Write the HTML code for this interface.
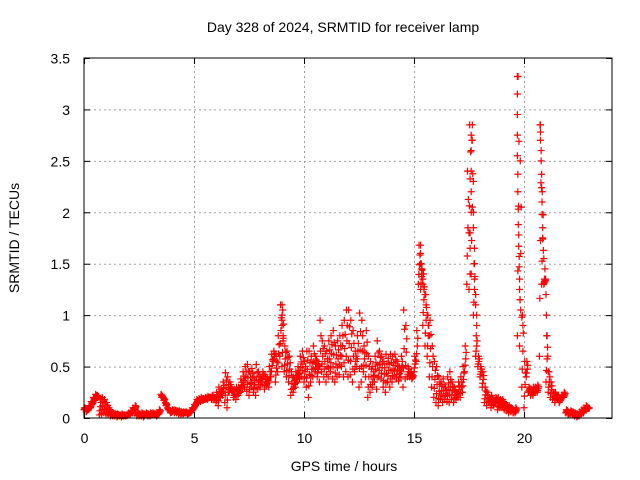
<!DOCTYPE html>
<html><head><meta charset="utf-8"><style>
html,body{margin:0;padding:0;background:#fff}
svg{display:block;font-family:"Liberation Sans",sans-serif}
</style></head><body>
<svg id="chart" width="640" height="480" viewBox="0 0 640 480">
<rect width="640" height="480" fill="#fff"/>
<text x="343" y="32" text-anchor="middle" font-size="14" fill="#000">Day 328 of 2024, SRMTID for receiver lamp</text>
<g id="grid"></g>
<g id="marks"></g>
<rect x="84" y="58" width="528" height="360" fill="none" stroke="#000" stroke-width="1"/>
<g id="ticks"></g>
<text x="344" y="471" text-anchor="middle" font-size="14" fill="#000">GPS time / hours</text>
<text transform="translate(19,238) rotate(-90)" text-anchor="middle" font-size="14" fill="#000">SRMTID / TECUs</text>
</svg>
<script>
const xTicks=[0,5,10,15,20];
const yTicks=[0,0.5,1,1.5,2,2.5,3,3.5];
const yTickLabels=["0","0.5","1","1.5","2","2.5","3","3.5"];
const hourStart=0, hourStep=0.1;
const srmtidLow=[
.08,.06,.08,.10,.14,.18,.22,.03,.04,.05,
.04,.03,.02,.02,.02,.01,.02,.01,.02,.02,
.03,.04,.05,.08,.02,.02,.02,.01,.03,.02,
.02,.03,.03,.02,.04,.23,.20,.15,.10,.07,
.06,.05,.05,.04,.04,.04,.05,.04,.05,.07,
.10,.14,.15,.16,.17,.18,.18,.20,.18,.19,
.15,.12,.20,.22,.15,.10,.25,.30,.20,.18,
.22,.25,.28,.30,.26,.22,.30,.25,.22,.28,
.30,.35,.28,.32,.30,.40,.55,.35,.45,.60,
.50,.45,.40,.35,.22,.25,.30,.35,.38,.40,
.35,.30,.20,.35,.40,.45,.40,.35,.45,.40,
.35,.40,.45,.38,.35,.40,.42,.50,.40,.45,
.40,.42,.35,.45,.50,.30,.35,.45,.40,.20,
.25,.30,.35,.28,.40,.38,.30,.25,.35,.30,
.35,.40,.38,.36,.40,.30,.38,.40,.40,.38,
.45,.55,1.30,1.25,.90,.70,.60,.40,.30,.20,
.15,.12,.18,.15,.18,.16,.15,.18,.15,.18,
.20,.20,.25,.45,1.30,1.80,1.40,1.00,.60,.50,
.40,.30,.15,.12,.15,.10,.12,.15,.08,.10,
.10,.08,.07,.05,.06,.05,.05,.80,.70,.30,
.10,.40,.25,.22,.22,.25,.25,.60,1.30,1.30,
.35,.25,.20,.18,.15,.18,.15,.20,.20,.05,
.03,.04,.03,.02,.01,.02,.04,.05,.08,.09];
const srmtidHigh=[
.10,.09,.12,.16,.20,.23,.20,.19,.20,.18,
.15,.10,.06,.05,.04,.04,.03,.04,.03,.03,
.05,.07,.10,.12,.06,.04,.05,.04,.05,.04,
.05,.05,.04,.05,.08,.20,.17,.12,.08,.05,
.08,.08,.07,.07,.06,.06,.06,.05,.06,.10,
.13,.18,.19,.20,.19,.20,.21,.20,.22,.20,
.25,.30,.28,.35,.44,.40,.35,.25,.28,.30,
.30,.38,.45,.50,.52,.45,.48,.40,.52,.45,
.40,.45,.42,.38,.50,.62,.65,.62,.80,1.10,
1.05,.70,.65,.60,.45,.40,.45,.50,.60,.65,
.55,.65,.65,.60,.70,.60,.55,.95,.75,.70,
.65,.75,.80,.85,.70,.75,.80,.90,.95,1.05,
1.05,.95,.85,.65,.80,1.02,.95,.70,.85,.60,
.55,.50,.60,.75,.65,.60,.55,.62,.58,.62,
.60,.62,.55,.50,.60,1.05,.90,.50,.45,.42,
.60,.85,1.68,1.50,1.40,1.20,1.00,.95,.70,.55,
.50,.40,.35,.38,.30,.40,.45,.35,.30,.25,
.35,.40,.50,.70,2.40,2.85,2.70,1.50,.80,.60,
.50,.45,.30,.25,.20,.22,.18,.20,.20,.18,
.18,.15,.12,.12,.10,.08,.10,3.32,2.50,1.00,
.55,.55,.30,.28,.30,.30,.32,2.85,2.20,1.35,
.80,.45,.35,.25,.25,.22,.20,.22,.25,.08,
.06,.07,.06,.05,.04,.06,.08,.10,.12,.10];
const spikeHours=[
9.0,9.0,9.0,9.0,9.05,9.05,
15.3,15.3,15.3,15.35,15.35,15.4,15.4,15.45,15.5,15.55,15.6,15.65,15.7,
17.5,17.55,17.55,17.55,17.6,17.6,17.6,17.6,17.6,17.65,17.65,17.7,17.7,17.7,17.75,17.75,17.75,17.8,17.8,17.85,17.85,
19.7,19.7,19.7,19.7,19.7,19.72,19.72,19.74,19.74,19.76,19.76,19.78,19.78,19.8,19.8,19.82,19.85,19.9,19.95,
20.75,20.75,20.75,20.78,20.78,20.8,20.8,20.82,20.82,20.85,20.85,20.88,20.9,20.95,20.98,21.0,21.02,21.05,21.08,21.1];
const spikeValues=[
1.10,1.0,0.95,0.9,0.8,0.75,
1.68,1.6,1.5,1.45,1.4,1.35,1.3,1.25,1.2,1.1,1.0,0.9,0.8,
1.25,1.4,1.65,1.8,2.0,2.2,2.4,2.6,2.75,2.85,2.7,2.3,2.0,1.85,1.65,1.5,1.35,1.2,1.1,1.0,0.9,
3.32,3.15,2.95,2.75,2.55,2.37,2.2,2.03,1.88,1.78,1.67,1.57,1.47,1.35,1.25,1.15,1.05,0.98,0.9,
2.85,2.78,2.7,2.6,2.5,2.37,2.24,2.1,1.98,1.85,1.74,1.63,1.55,1.45,1.35,1.2,1.0,0.8,0.6,0.45];

const X0=84,X1=612,Y0=418,Y1=58,XMAX=24,YMAX=3.5;
const xs=h=>X0+(h/XMAX)*(X1-X0);
const ys=v=>Y0-(v/YMAX)*(Y0-Y1);
const NS="http://www.w3.org/2000/svg";
const grid=document.getElementById('grid'),ticks=document.getElementById('ticks'),marks=document.getElementById('marks');
function line(p,x1,y1,x2,y2,st,dash){const l=document.createElementNS(NS,'line');l.setAttribute('x1',x1);l.setAttribute('y1',y1);l.setAttribute('x2',x2);l.setAttribute('y2',y2);l.setAttribute('stroke',st);if(dash)l.setAttribute('stroke-dasharray',dash);p.appendChild(l);return l;}
function txt(p,x,y,s,anchor){const t=document.createElementNS(NS,'text');t.setAttribute('x',x);t.setAttribute('y',y);t.setAttribute('text-anchor',anchor);t.setAttribute('font-size','14');t.textContent=s;p.appendChild(t);return t;}
xTicks.forEach(v=>{const x=xs(v)+0.5;
 if(v>0){const g=line(grid,x,Y0,x,Y1,'#a0a0a0','2,3');
 
 }
 line(ticks,x,Y0,x,Y0-6,'#000');line(ticks,x,Y1,x,Y1+6,'#000');
 const t=txt(ticks,x,443,String(v),'middle');
 
 });
yTicks.forEach((v,i)=>{const y=ys(v)+0.5;
 if(v>0&&v<YMAX){const g=line(grid,X0,y,X1,y,'#a0a0a0','2,3');
 
 }
 line(ticks,X0,y,X0+6,y,'#000');line(ticks,X1,y,X1-6,y,'#000');
 const t=txt(ticks,70,y+5,yTickLabels[i],'end');
 
 });
function plus(h,v){const x=xs(h),y=ys(v);const p=document.createElementNS(NS,'path');
 p.setAttribute('d',`M${x-3.5},${y}H${x+3.5}M${x},${y-3.5}V${y+3.5}`);
 p.setAttribute('stroke','#ff0000');p.setAttribute('stroke-width','1.2');p.setAttribute('fill','none');
 
 
 marks.appendChild(p);}
srmtidLow.forEach((v,i)=>{const h=hourStart+i*hourStep,w=srmtidHigh[i];
 plus(h,v);plus(h+0.02,v+(w-v)*0.25);plus(h+0.05,(v+w)/2);plus(h+0.07,v+(w-v)*0.75);plus(h+0.03,w);});
spikeHours.forEach((h,i)=>plus(h,spikeValues[i]));
</script>
</body></html>
